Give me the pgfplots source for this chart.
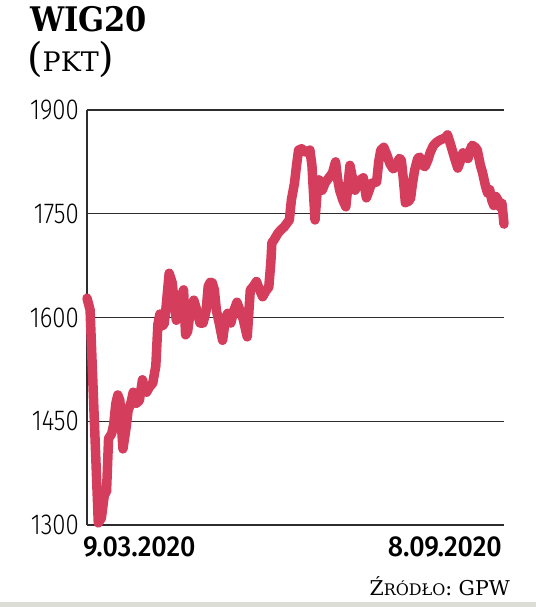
\documentclass[border=0pt]{standalone}
\usepackage{pgfplots}
\pgfplotsset{compat=1.18}
\usepackage{fontspec}
\setmainfont{DejaVu Serif}
\newfontfamily\tickfont[FakeStretch=0.83]{Fira Sans Light}
\newfontfamily\datefont[FakeStretch=0.93]{Fira Sans Medium}
\newfontfamily\titlefont[FakeStretch=0.9]{DejaVu Serif}
\definecolor{wig}{RGB}{212,62,92}
\definecolor{gridc}{RGB}{45,45,45}
\definecolor{barc}{RGB}{221,221,216}
\begin{document}
\begin{tikzpicture}
\useasboundingbox (0,0) rectangle (536bp,607bp);
\fill[barc] (0,0) rectangle (536bp,5bp);
\begin{axis}[
  at={(87bp,82bp)}, anchor=south west,
  scale only axis, width=417bp, height=415bp,
  xmin=86, xmax=492, ymin=1300, ymax=1900,
  axis lines=left,
  axis line style={-, gridc, line width=1.4bp},
  xtick=\empty,
  ytick={1300,1450,1600,1750,1900},
  yticklabels={1300,1450,1600,1750,1900},
  major tick length=0pt,
  ymajorgrids,
  grid style={gridc, line width=1.4bp},
  yticklabel style={font=\tickfont\fontsize{29}{29}\selectfont, anchor=east, inner sep=0pt, xshift=-8bp},
  clip=false,
]
\addplot[wig, line width=9.5bp, line join=round, line cap=round] coordinates {
(86,1628) (89,1611) (97,1303) (100,1310) (103,1345) (105,1348) (107,1425) (110,1432)
(112,1445) (114,1475) (116,1488) (118,1480) (121,1410) (124,1440) (126,1465) (129,1478)
(131,1492) (134,1476) (137,1480) (140,1510) (142,1498) (144,1492) (147,1500) (150,1505)
(153,1530) (155,1590) (157,1605) (159,1588) (161,1590) (163,1615) (166,1664) (169,1650)
(171,1620) (173,1596) (176,1610) (178,1630) (180,1640) (182,1575) (184,1580) (187,1615)
(190,1625) (193,1610) (196,1592) (199,1592) (202,1610) (204,1645) (206,1651) (208,1650)
(210,1640) (212,1610) (215,1590) (218,1567) (221,1600) (223,1606) (226,1592) (229,1610)
(232,1622) (235,1610) (238,1598) (242,1572) (245,1640) (248,1645) (251,1652) (254,1640)
(257,1630) (260,1638) (263,1644) (265,1680) (266,1708) (268,1712) (272,1722) (275,1727)
(278,1731) (281,1737) (283,1741) (285,1770) (288,1794) (290,1820) (292,1842) (295,1844)
(298,1840) (300,1839) (303,1842) (305,1820) (308,1741) (310,1780) (312,1799) (315,1784)
(318,1795) (320,1799) (323,1805) (325,1809) (328,1825) (330,1800) (332,1784) (335,1770)
(338,1760) (340,1790) (342,1820) (344,1805) (347,1784) (350,1795) (353,1800) (355,1802)
(358,1773) (361,1785) (363,1794) (366,1795) (368,1796) (370,1825) (372,1842) (375,1846)
(378,1835) (381,1822) (384,1815) (387,1818) (390,1830) (392,1828) (394,1800) (396,1766)
(399,1768) (401,1772) (403,1795) (405,1813) (408,1830) (410,1832) (413,1820) (415,1818)
(418,1828) (420,1838) (423,1848) (426,1853) (429,1856) (432,1858) (435,1860) (437,1864)
(440,1850) (442,1840) (445,1825) (447,1816) (450,1828) (452,1838) (455,1835) (457,1830)
(459,1842) (461,1849) (464,1846) (466,1842) (469,1820) (471,1810) (474,1790) (476,1780)
(478,1785) (480,1770) (482,1762) (484,1775) (486,1770) (488,1760) (490,1765) (492,1735)
};
\end{axis}
\node[anchor=base west, inner sep=0pt, font=\datefont\fontsize{29}{29}\selectfont] at (83bp,50bp) {9.03.2020};
\node[anchor=base east, inner sep=0pt, font=\datefont\fontsize{29}{29}\selectfont] at (502bp,50bp) {8.09.2020};
\node[anchor=base west, inner sep=0pt, font=\titlefont\bfseries\fontsize{34}{34}\selectfont] at (30bp,575bp) {WIG20};
\node[anchor=base west, inner sep=0pt] at (27bp,535bp) {{\fontsize{40}{40}\selectfont(}{\fontsize{27}{27}\selectfont PKT}{\fontsize{40}{40}\selectfont)}};
\node[anchor=base east, inner sep=0pt] at (510bp,12bp) {{\fontsize{20.5}{20.5}\selectfont Ź}{\fontsize{16}{16}\selectfont RÓDŁO}{\fontsize{20.5}{20.5}\selectfont: GPW}};
\end{tikzpicture}
\end{document}
